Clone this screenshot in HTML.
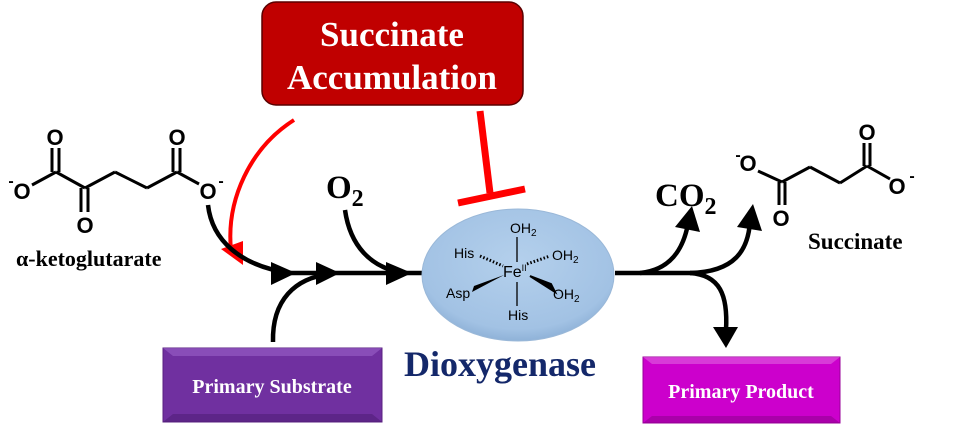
<!DOCTYPE html>
<html><head><meta charset="utf-8"><style>
html,body{margin:0;padding:0;background:#fff;}
svg{display:block;}
.s{font-family:"Liberation Serif",serif;font-weight:bold;}
.a{font-family:"Liberation Sans",sans-serif;}
</style></head><body>
<svg width="960" height="431" viewBox="0 0 960 431" xmlns="http://www.w3.org/2000/svg">
<defs>
<radialGradient id="eg" cx="0.5" cy="0.4" r="0.6">
<stop offset="0" stop-color="#b4d0ec"/><stop offset="0.85" stop-color="#a2c2e4"/><stop offset="1" stop-color="#8fb2d8"/>
</radialGradient>
</defs>

<!-- Red box -->
<rect x="262" y="2" width="261" height="103" rx="14" fill="#c00000" stroke="#5a0000" stroke-width="1.5"/>
<text x="392" y="46" class="s" font-size="35" fill="#fff" text-anchor="middle">Succinate</text>
<text x="392" y="89" class="s" font-size="35" fill="#fff" text-anchor="middle">Accumulation</text>

<!-- red arrow -->
<path d="M294,120 C250,148 226,200 231,250" fill="none" stroke="#f00" stroke-width="4"/>
<path d="M221,249 L243,265 L243,241 z" fill="#f00"/>
<!-- red inhibitor -->
<line x1="480" y1="111" x2="490" y2="193" stroke="#f00" stroke-width="7"/>
<line x1="458" y1="203" x2="525" y2="189" stroke="#f00" stroke-width="7"/>

<!-- alpha-KG molecule -->
<g stroke="#000" stroke-width="3" fill="none">
<line x1="32" y1="185" x2="56" y2="172"/>
<line x1="56" y1="172" x2="85" y2="188"/>
<line x1="85" y1="188" x2="115" y2="172"/>
<line x1="115" y1="172" x2="147" y2="188"/>
<line x1="147" y1="188" x2="177" y2="172"/>
<line x1="177" y1="172" x2="199" y2="184"/>
<line x1="52" y1="172" x2="52" y2="148"/><line x1="59" y1="172" x2="59" y2="148"/>
<line x1="81" y1="188" x2="81" y2="212"/><line x1="88" y1="188" x2="88" y2="212"/>
<line x1="173" y1="172" x2="173" y2="148"/><line x1="180" y1="172" x2="180" y2="148"/>
</g>
<g class="a" font-size="22" fill="#000" text-anchor="middle" font-weight="bold">
<text x="22" y="199">O</text><text x="55" y="145">O</text><text x="85" y="233">O</text>
<text x="177" y="145">O</text><text x="208" y="199">O</text>
<text x="11" y="186" font-size="16">-</text><text x="221" y="186" font-size="16">-</text>
</g>
<text x="16" y="266" class="s" font-size="22" fill="#000">α-ketoglutarate</text>

<!-- black paths -->
<g fill="none" stroke="#000" stroke-width="4.5">
<path d="M208,205 C212,240 240,266 290,273"/>
<line x1="285" y1="273" x2="422" y2="273"/>
<path d="M273,342 C272,300 295,278 330,274"/>
<path d="M345,210 C350,245 370,268 404,273"/>
<line x1="615" y1="273" x2="705" y2="273"/>
<path d="M640,273 C670,270 683,250 688,224"/>
<path d="M690,273 C735,272 748,250 750,222"/>
<path d="M690,273 C720,275 728,295 726,330"/>
</g>
<g fill="#000">
<path d="M271,262 L296,273 L271,285 z"/>
<path d="M316,262 L340,273 L316,285 z"/>
<path d="M386,262 L412,273 L386,285 z"/>
<path d="M675,227 L692,206 L700,232 z"/>
<path d="M737,227 L753,204 L762,231 z"/>
<path d="M713,327 L726,348 L738,327 z"/>
</g>

<!-- O2 -->
<text x="326" y="198" class="s" font-size="33" fill="#000">O<tspan font-size="24" dy="8">2</tspan></text>
<!-- CO2 -->
<text x="655" y="206" class="s" font-size="33" fill="#000">CO<tspan font-size="24" dy="8">2</tspan></text>

<!-- Ellipse -->
<ellipse cx="518" cy="275" rx="96" ry="66" fill="url(#eg)" stroke="#9ab8d8" stroke-width="1"/>
<g class="a" font-size="14" fill="#000">
<text x="510" y="233">OH<tspan font-size="10" dy="3">2</tspan></text>
<text x="454" y="258">His</text>
<text x="552" y="260">OH<tspan font-size="10" dy="3">2</tspan></text>
<text x="503" y="277" font-size="16">Fe<tspan font-size="9" dy="-6">II</tspan></text>
<text x="446" y="298">Asp</text>
<text x="553" y="299">OH<tspan font-size="10" dy="3">2</tspan></text>
<text x="508" y="320">His</text>
</g>
<g stroke="#000" stroke-width="1.3">
<line x1="517" y1="237" x2="517" y2="262"/>
<line x1="517" y1="282" x2="517" y2="306"/>
<line x1="480" y1="256" x2="503" y2="266" stroke-dasharray="1.5,2" stroke-width="3"/>
<line x1="527" y1="264" x2="550" y2="256" stroke-dasharray="1.5,2" stroke-width="3"/>
</g>
<path d="M472,292 L504,275 L474,286 z" fill="#000"/>
<path d="M530,276 L555,292 L551,284 z" fill="#000" stroke="#000" stroke-width="2"/>

<text x="500" y="376" class="s" font-size="36" fill="#14286a" text-anchor="middle">Dioxygenase</text>

<!-- Succinate molecule -->
<g stroke="#000" stroke-width="3" fill="none">
<line x1="758" y1="171" x2="782" y2="182"/>
<line x1="782" y1="182" x2="810" y2="167"/>
<line x1="810" y1="167" x2="840" y2="183"/>
<line x1="840" y1="183" x2="867" y2="166"/>
<line x1="867" y1="166" x2="890" y2="179"/>
<line x1="779" y1="182" x2="779" y2="205"/><line x1="785" y1="182" x2="785" y2="205"/>
<line x1="864" y1="166" x2="864" y2="143"/><line x1="870" y1="166" x2="870" y2="143"/>
</g>
<g class="a" font-size="22" fill="#000" text-anchor="middle" font-weight="bold">
<text x="748" y="171">O</text><text x="781" y="226">O</text><text x="867" y="140">O</text><text x="897" y="194">O</text>
<text x="738" y="160" font-size="16">-</text><text x="912" y="181" font-size="16">-</text>
</g>
<text x="808" y="249" class="s" font-size="23" fill="#000">Succinate</text>

<!-- Primary Substrate box -->
<rect x="163" y="348" width="219" height="74" fill="#7030a0" stroke="#5a2080" stroke-width="1"/>
<path d="M163,348 L382,348 L372,356 L173,356 z" fill="#9a60c8" opacity="0.6"/>
<path d="M163,422 L382,422 L372,414 L173,414 z" fill="#4a1a70" opacity="0.5"/>
<text x="272" y="393" class="s" font-size="20" fill="#fff" text-anchor="middle">Primary Substrate</text>

<!-- Primary Product box -->
<rect x="643" y="357" width="197" height="66" fill="#cc00cc" stroke="#990099" stroke-width="1"/>
<path d="M643,357 L840,357 L831,364 L652,364 z" fill="#e060e0" opacity="0.6"/>
<path d="M643,423 L840,423 L831,416 L652,416 z" fill="#880088" opacity="0.5"/>
<text x="741" y="398" class="s" font-size="20" fill="#fff" text-anchor="middle">Primary Product</text>
</svg>
</body></html>
